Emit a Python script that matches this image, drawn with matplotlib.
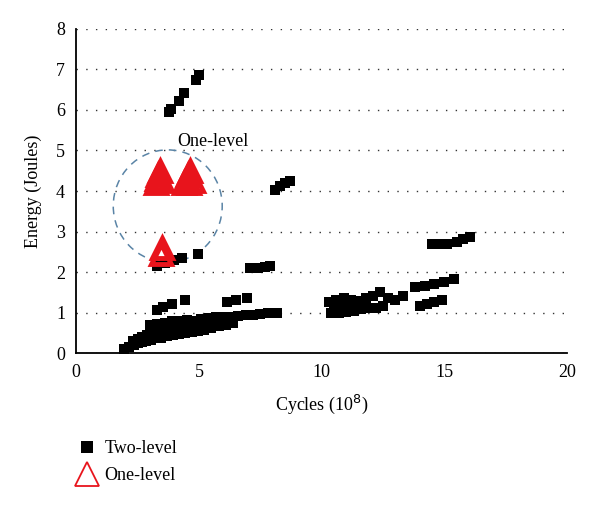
import matplotlib
matplotlib.use("Agg")
import matplotlib.pyplot as plt
from matplotlib.patches import Ellipse
from matplotlib.lines import Line2D

plt.rcParams['font.family'] = ['Liberation Serif', 'DejaVu Serif']

# two-level points (cycles in 1e8, energy in joules)
two_x = [1.95, 2.15, 2.35, 2.5, 2.7, 2.85, 3.05, 3.25, 3.45, 3.7, 3.95, 4.2, 4.45, 4.7, 4.95, 5.2, 5.5, 5.8, 6.1, 6.4,
         2.3, 2.5, 2.7, 2.9, 3.1, 3.3, 3.5, 3.75, 4.0, 4.25, 4.5, 4.8, 5.1, 5.4,
         3.0, 3.3, 3.6, 3.9, 4.2, 4.5, 4.8, 5.1, 5.4, 5.7, 6.0, 6.3, 6.6, 6.9, 7.2, 7.5, 7.8, 8.2,
         3.3, 3.55, 3.9, 4.45, 6.15, 6.5, 6.95,
         3.3, 3.6, 4.0, 4.3, 4.95,
         7.1, 7.4, 7.7, 7.9,
         8.1, 8.3, 8.5, 8.7,
         3.8, 3.85, 4.2, 4.4, 4.9, 5.0,
         10.4, 10.7, 11.0, 11.3, 11.6, 11.9, 12.2, 12.5, 10.5, 10.8, 11.1,
         10.3, 10.6, 10.9, 11.2, 11.5, 11.8, 12.1, 12.4, 12.7, 13.0, 13.3,
         14.0, 14.3, 14.6, 14.9, 13.8, 14.2, 14.6, 15.0, 15.4,
         14.5, 14.8, 15.1, 15.5, 15.75, 16.05]
two_y = [0.1, 0.15, 0.2, 0.25, 0.28, 0.3, 0.33, 0.36, 0.38, 0.42, 0.45, 0.48, 0.5, 0.52, 0.55, 0.58, 0.62, 0.66, 0.7, 0.75,
         0.3, 0.35, 0.4, 0.45, 0.5, 0.52, 0.55, 0.6, 0.62, 0.65, 0.68, 0.7, 0.72, 0.75,
         0.7, 0.72, 0.75, 0.78, 0.8, 0.82, 0.8, 0.85, 0.86, 0.88, 0.9, 0.9, 0.92, 0.95, 0.95, 0.97, 0.98, 1.0,
         1.07, 1.14, 1.21, 1.31, 1.27, 1.32, 1.37,
         2.15, 2.22, 2.3, 2.35, 2.45,
         2.1, 2.1, 2.12, 2.15,
         4.02, 4.12, 4.2, 4.25,
         5.95, 6.02, 6.22, 6.42, 6.74, 6.86,
         0.98, 1.0, 1.02, 1.05, 1.08, 1.1, 1.12, 1.15, 1.2, 1.1, 1.25,
         1.25, 1.3, 1.35, 1.3, 1.28, 1.35, 1.4, 1.5, 1.35, 1.3, 1.4,
         1.15, 1.2, 1.25, 1.32, 1.62, 1.65, 1.7, 1.75, 1.82,
         2.7, 2.7, 2.7, 2.75, 2.82, 2.87]

# one-level points
one_x = [3.25, 3.3, 3.35, 3.4, 3.5, 4.4, 4.5, 4.55, 4.65, 4.75, 4.6, 3.45, 3.5]
one_y = [4.2, 4.3, 4.4, 4.5, 4.25, 4.2, 4.3, 4.4, 4.5, 4.25, 4.2, 2.45, 2.6]

fig = plt.figure(figsize=(6, 5.08), dpi=100)
ax = fig.add_axes([0.127, 0.305, 0.818, 0.638])

ax.plot(two_x, two_y, 's', color='black', markersize=6.5, markeredgewidth=0, linestyle='none')
ax.plot(one_x, one_y, '^', markerfacecolor='none', markeredgecolor='#e8141c', markersize=15,
        markeredgewidth=3.5, linestyle='none')

circ = Ellipse((3.73, 3.63), 4.44, 2.77, fill=False, edgecolor='#5a84a6', linestyle=(0, (5, 4)), linewidth=1.1)
ax.add_patch(circ)
ax.text(4.1, 5.12, 'One-level', fontsize=13)

ax.set_xlim(0, 20)
ax.set_ylim(0, 8)
ax.set_xticks([0, 5, 10, 15, 20])
ax.set_yticks(range(0, 9))
ax.yaxis.grid(True, linestyle=(0, (1, 6)), color='#333333', linewidth=1)
ax.set_axisbelow(True)
ax.tick_params(length=0, labelsize=13, pad=8)
for s in ['top', 'right']:
    ax.spines[s].set_visible(False)
ax.spines['left'].set_linewidth(1.3)
ax.spines['bottom'].set_linewidth(1.3)
ax.set_xlabel('Cycles (10$^8$)', fontsize=13, labelpad=8)
ax.set_ylabel('Energy (Joules)', fontsize=13, labelpad=10)

handles = [Line2D([], [], marker='s', color='black', linestyle='none', markersize=8, markeredgewidth=0),
           Line2D([], [], marker='^', markerfacecolor='none', markeredgecolor='#e8141c', linestyle='none',
                  markersize=17, markeredgewidth=1.3)]
fig.legend(handles, ['Two-level', 'One-level'], loc='upper left', bbox_to_anchor=(0.1, 0.165),
           frameon=False, fontsize=13, handlelength=1.2, handletextpad=0.35, labelspacing=0.55)

fig.savefig('out.png', dpi=100)
